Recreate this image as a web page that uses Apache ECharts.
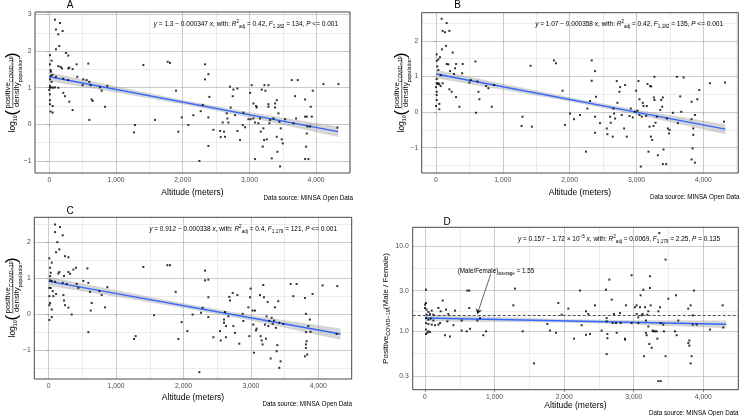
<!DOCTYPE html>
<html><head><meta charset="utf-8">
<script src="https://cdn.jsdelivr.net/npm/echarts@6/dist/echarts.min.js"></script>
<style>html,body{margin:0;padding:0;background:#fff}#c{width:740px;height:416px}</style>
</head><body><div id="c"></div>
<script>
// ---------- DATA ----------
const altA = [85,160,100,135,200,150,100,250,285,10,35,135,170,190,285,300,350,410,10,20,25,20,45,100,10,35,210,285,420,10,10,35,60,85,135,0,10,210,235,10,10,50,20,50,300,350,510,560,585,600,620,635,650,600,760,785,870,835,500,1410,1285,1270,1585,1775,1810,1900,1935,1985,2085,2160,2250,2270,2300,2335,2335,2385,2400,2385,2385,2460,2560,2570,2600,2620,2635,2660,2670,2685,2710,2720,2750,2760,2785,2820,2820,2860,2900,2910,2935,2985,3010,3020,3035,3060,3060,3085,3085,3100,3110,3135,3160,3170,3185,3200,3210,3220,3225,3240,3260,3285,3285,3285,3300,3310,3335,3360,3385,3385,3410,3410,3420,3435,3450,3460,3470,3485,3500,3535,3635,3660,3685,3700,3725,3835,3835,3860,3850,3835,3885,3860,3870,3910,3920,3935,3950,4110,4335,4320];
const valA = [2.86,2.77,2.59,2.46,2.55,2.14,2.05,1.95,1.88,1.89,1.74,1.59,1.57,1.53,1.53,1.55,1.51,1.64,1.64,1.48,1.44,1.32,1.35,1.30,1.23,1.16,1.25,1.21,1.30,1.05,1.00,1.01,1.00,1.01,1.00,0.94,0.82,0.86,0.77,0.66,0.55,0.50,0.35,0.32,0.62,0.39,1.23,1.21,1.66,1.16,1.07,0.68,0.64,0.12,1.01,0.92,1.05,0.48,1.07,1.62,-0.02,-0.22,0.12,1.71,1.68,0.92,-0.20,0.19,-0.02,0.25,-1.00,0.36,0.53,1.64,1.23,1.37,0.75,0.19,-0.59,-0.15,-0.18,-0.35,0.05,-0.20,-0.34,0.30,0.16,0.05,1.03,0.46,0.77,0.95,0.25,0.98,-0.18,-0.43,-0.02,0.32,-0.08,0.14,0.86,0.14,1.07,0.57,0.16,-0.95,0.05,0.50,0.46,0.03,0.16,-0.20,0.95,-0.61,-0.11,-0.43,1.07,0.92,-0.41,1.07,0.55,0.48,0.03,0.12,-0.93,0.16,0.46,0.57,0.66,-0.34,-0.75,0.30,0.07,-1.15,-0.11,-0.41,-0.52,0.14,1.21,0.03,0.77,0.16,1.21,0.68,0.21,0.21,-0.61,-0.95,-0.95,-0.25,-0.06,-0.06,0.48,0.21,0.92,1.10,1.10,-0.09];

const altB = [85,100,135,160,200,150,90,250,10,35,60,160,185,300,285,400,10,20,35,70,10,35,210,270,390,10,25,50,70,100,0,10,200,235,10,10,50,0,50,300,350,500,520,590,620,635,650,600,750,785,870,835,1415,1295,1280,1435,1765,1795,1895,1930,2005,2065,2155,2245,2265,2305,2330,2330,2380,2395,2380,2380,2455,2555,2565,2605,2615,2645,2655,2665,2680,2705,2715,2745,2755,2780,2830,2815,2855,2895,2915,2945,2980,2995,3015,3030,3045,3045,3065,3080,3095,3105,3145,3155,3165,3180,3195,3205,3215,3220,3235,3255,3260,3270,3270,3285,3305,3320,3355,3370,3385,3395,3405,3395,3445,3455,3470,3485,3495,3545,3605,3620,3655,3670,3705,3825,3825,3840,3825,3875,3850,3850,3875,3910,3940,4100,4325,4310];
const valB = [2.62,2.28,2.24,2.50,2.28,1.86,1.76,1.67,1.62,1.48,1.54,1.35,1.34,1.35,1.23,1.35,1.44,1.28,1.18,1.04,0.93,0.81,1.15,1.07,1.09,0.81,0.79,0.78,0.73,0.81,0.70,0.57,0.64,0.57,0.48,0.34,0.23,0.17,0.08,0.42,0.15,0.83,0.90,1.42,0.86,0.57,0.36,-0.02,0.73,0.67,0.76,0.15,1.30,-0.13,-0.39,-0.41,1.45,1.37,0.60,-0.36,-0.04,-0.20,-0.08,-1.11,0.10,0.31,1.45,0.88,1.15,0.43,-0.13,-0.58,-0.31,-0.46,-0.62,-0.13,-0.30,-0.69,0.10,-0.04,-0.18,0.87,0.26,0.57,0.70,-0.08,0.76,-0.46,-0.69,-0.11,0.10,-0.15,0.01,0.60,0.04,0.87,0.36,-0.08,-1.53,-0.13,0.26,0.17,-0.11,0.17,0.79,-1.11,-0.41,0.73,-0.69,0.72,-0.78,-0.39,0.41,0.99,0.34,-0.30,-0.13,-1.21,0.06,0.34,0.15,0.41,-1.05,-1.46,-1.46,-0.18,-0.46,-0.60,-0.50,-0.02,0.99,-0.31,0.44,0.01,0.97,0.29,-0.20,-1.02,-1.33,-1.42,-0.64,-0.46,-0.08,0.36,0.62,0.81,0.83,-0.27];

const altC = [94,168,94,208,128,158,109,242,292,10,45,158,143,227,292,317,366,405,20,30,20,20,45,94,208,267,415,10,30,59,109,10,69,218,227,242,292,20,10,45,45,10,341,440,514,574,588,613,638,623,588,752,786,870,836,1404,1290,1266,1563,1760,1800,1884,1924,1973,2057,2136,2235,2260,2284,2319,2319,2369,2369,2369,2443,2542,2552,2601,2601,2616,2631,2631,2666,2680,2690,2730,2740,2764,2799,2828,2878,2888,2962,2977,2987,2996,3026,3036,3046,3061,3076,3085,3135,3145,3160,3174,3184,3194,3209,3224,3234,3249,3259,3274,3293,3308,3323,3343,3357,3372,3382,3392,3406,3421,3441,3421,3481,3590,3630,3679,3802,3817,3817,3802,3837,3827,3817,3817,3852,3876,3886,3915,4064,4282,4272];
const valC = [2.49,2.42,2.28,2.19,2.00,1.80,1.72,1.61,1.58,1.55,1.43,1.17,1.13,1.06,1.17,1.12,1.24,1.29,1.29,1.15,1.06,0.94,0.92,0.90,0.87,0.84,0.84,0.73,0.73,0.64,0.56,0.50,0.50,0.53,0.38,0.25,0.18,0.31,0.25,0.13,-0.08,-0.16,-0.01,0.73,0.92,1.27,0.87,0.62,0.31,0.10,-0.50,0.64,0.53,0.75,0.19,1.31,-0.61,-0.69,-0.03,1.36,1.36,0.62,-0.69,-0.22,-0.47,-0.01,-1.61,0.04,0.18,1.21,0.94,0.96,0.47,-0.08,-0.64,-0.47,-0.73,-0.15,-0.24,0.06,-0.33,-0.64,-0.06,0.48,0.38,0.59,-0.33,-0.52,0.53,-0.82,0.01,-0.19,0.19,-0.61,0.47,0.71,0.10,-0.29,-1.07,0.10,-0.45,-0.40,0.53,-0.61,-0.73,-0.84,0.81,0.47,-0.29,-0.68,-0.06,0.34,-0.33,-0.19,-1.23,-0.10,-0.27,-0.18,0.19,-0.38,-1.03,-0.86,0.36,-1.49,-1.31,-0.24,-0.27,0.84,0.50,0.84,0.45,0.01,-0.94,-1.17,-1.12,-0.75,-0.84,-0.50,-0.33,-0.15,-0.49,0.56,0.80,0.78,-0.55];

const altD = [14,14,0,0,24,96,48,72,24,120,14,48,81,120,14,48,96,144,192,216,14,34,48,14,72,192,225,254,302,321,287,359,335,431,407,527,527,599,608,636,636,647,752,790,838,877,1293,1269,1404,1566,1758,1796,1916,1883,1964,2060,2141,2228,2252,2314,2314,2347,2371,2443,2539,2601,2611,2611,2621,2621,2611,2649,2683,2697,2716,2745,2755,2803,2812,2874,2874,2889,2970,2970,3018,3042,3042,3066,3066,3090,3099,3114,3128,3138,3147,3162,3176,3176,3186,3195,3210,3210,3224,3234,3234,3243,3258,3272,3282,3306,3330,3339,3354,3378,3387,3354,3387,3368,3425,3434,3458,3458,3497,3607,3593,3617,3641,3784,3784,3799,3799,3818,3818,3832,3847,3847,3866,3904,4096,4278,4287];
const valD = [3.09,2.15,2.06,1.88,1.80,1.75,1.69,1.60,1.57,1.57,1.43,1.37,1.41,1.34,1.25,1.22,1.20,1.18,1.20,1.25,1.05,0.96,1.00,0.93,0.98,1.88,1.72,2.30,1.80,1.31,0.90,0.87,1.60,1.75,1.18,1.34,1.02,1.00,3.01,3.01,1.88,1.07,1.34,1.43,0.90,1.00,3.18,2.02,1.00,0.42,1.22,1.02,2.15,0.96,1.57,1.85,0.82,3.01,1.18,1.72,0.91,1.60,0.93,2.02,1.02,3.09,1.43,1.31,0.93,0.83,0.54,4.05,2.36,1.25,1.60,1.25,0.96,1.64,1.25,0.82,0.80,2.02,4.56,1.25,1.92,2.02,1.60,1.46,1.25,1.92,2.65,1.54,1.60,3.09,0.51,1.92,1.34,0.96,0.90,1.57,1.72,1.14,0.71,3.23,4.44,2.02,0.64,1.02,1.00,1.00,1.00,0.82,1.72,1.92,1.25,0.26,0.26,14.3,1.20,1.00,6.97,0.51,2.42,2.65,1.00,0.90,1.34,1.85,0.73,0.68,0.78,2.02,0.42,0.51,1.54,1.20,3.01,1.20,1.05,2.02,1.11];

// fitted lines (endpoints) and confidence bands
const fitX = [0, 4330];
const fitA = [1.30, -0.20];
const fitB = [1.07, -0.48];
const fitC = [0.912, -0.552];
const fitD = [1.435, 1.21];
const bandX = [0, 1000, 2000, 3000, 4330];
const loA = [1.175, 0.868, 0.546, 0.189, -0.347], hiA = [1.425, 1.038, 0.666, 0.329, -0.057];
const loB = [0.95, 0.627, 0.294, -0.074, -0.62], hiB = [1.19, 0.797, 0.414, 0.066, -0.34];
const loC = [0.787, 0.484, 0.171, -0.177, -0.707], hiC = [1.037, 0.664, 0.301, -0.027, -0.397];
const loD = [1.31, 1.29, 1.266, 1.20, 1.09], hiD = [1.57, 1.48, 1.389, 1.35, 1.34];

const xTicks = [0, 1000, 2000, 3000, 4000];
const xMinor = [500, 1500, 2500, 3500, 4500];
const yTicksABC = [-1, 0, 1, 2, 3];
const yMinorABC = [-1.5, -0.5, 0.5, 1.5, 2.5];
const yTicksD = [0.3, 1, 3, 10];
const yTickLabelsD = ['0.3', '1.0', '3.0', '10.0'];
const yMinorD = [0.548, 1.732, 5.477];
const avgD = 1.55;

const titles = ['A', 'B', 'C', 'D'];
const eqA = '{i|y} = 1.3 − 0.000347 {i|x}, with: {i|R}{sup|2}{sub|adj} = 0.42, {i|F}{sub|1,182} = 134, {i|P} <= 0.001';
const eqB = '{i|y} = 1.07 − 0.000358 {i|x}, with: {i|R}{sup|2}{sub|adj} = 0.42, {i|F}{sub|1,182} = 135, {i|P} <= 0.001';
const eqC = '{i|y} = 0.912 − 0.000338 {i|x}, with: {i|R}{sup|2}{sub|adj} = 0.4, {i|F}{sub|1,179} = 121, {i|P} <= 0.001';
const eqD = '{i|y} = 0.157 − 1.72 × 10{sup|−5} {i|x}, with: {i|R}{sup|2}{sub|adj} = 0.0069, {i|F}{sub|1,179} = 2.25, {i|P} = 0.135';
const source = 'Data source: MINSA Open Data';
const xName = 'Altitude (meters)';

// ---------- CHART ----------
const FF = '"Liberation Sans", Arial, Helvetica, sans-serif';
const MAJ = '#b4b4b4', MIN = '#dcdcdc';
const richEq = {
  i: {fontStyle: 'italic', fontSize: 6.5, fontFamily: FF},
  sub: {fontSize: 4.6, lineHeight: 5, verticalAlign: 'bottom', fontFamily: FF},
  sup: {fontSize: 4.6, lineHeight: 5, verticalAlign: 'top', fontFamily: FF}
};
const pairs = (xs, ys) => xs.map((x, i) => [x, ys[i]]);

const panels = [
  {grid: {left: 35, top: 12, width: 315, height: 161}, xr: [-214, 4508], yr: [-1.33, 3.07], x: altA, y: valA, fit: fitA, lo: loA, hi: hiA},
  {grid: {left: 421.7, top: 12.7, width: 316.6, height: 160.3}, xr: [-214, 4524], yr: [-1.71, 2.79], x: altB, y: valB, fit: fitB, lo: loB, hi: hiB},
  {grid: {left: 34.3, top: 217.3, width: 317.4, height: 161.7}, xr: [-214, 4496], yr: [-1.80, 2.69], x: altC, y: valC, fit: fitC, lo: loC, hi: hiC},
  {grid: {left: 412.7, top: 227.3, width: 325.6, height: 162.4}, xr: [-177, 4503], yr: [0.206, 16.7], x: altD, y: valD, fit: fitD, lo: loD, hi: hiD, log: true}
];

const grids = [], xAxes = [], yAxes = [], series = [], borders = [];
panels.forEach((p, k) => {
  grids.push(Object.assign({show: false}, p.grid));
  borders.push({type: 'rect', silent: true, z: 90,
    shape: {x: p.grid.left, y: p.grid.top, width: p.grid.width, height: p.grid.height},
    style: {fill: 'none', stroke: '#333', lineWidth: 0.9}});
  xAxes.push({
    type: 'value', gridIndex: k, min: p.xr[0], max: p.xr[1],
    name: xName, nameLocation: 'middle', nameGap: k === 3 ? 11.5 : (k === 2 ? 14 : 15),
    nameTextStyle: {fontSize: 8.5, color: '#000', fontFamily: FF},
    axisLine: {show: false}, splitLine: {show: false},
    axisTick: {show: true, customValues: xTicks, length: 2.5, lineStyle: {color: '#333', width: 0.6}},
    axisLabel: {customValues: xTicks, fontSize: 6.8, color: '#4d4d4d', margin: 3.5, fontFamily: FF,
      formatter: v => Number(v).toLocaleString('en-US')}
  });
  if (!p.log) {
    const yt = yTicksABC.filter(v => v >= p.yr[0] && v <= p.yr[1]);
    yAxes.push({
      type: 'value', gridIndex: k, min: p.yr[0], max: p.yr[1],
      axisLine: {show: false}, splitLine: {show: false},
      axisTick: {show: true, customValues: yt, length: 2.5, lineStyle: {color: '#333', width: 0.6}},
      axisLabel: {customValues: yt, fontSize: 6.8, color: '#4d4d4d', margin: 3.5, fontFamily: FF,
        formatter: v => v < 0 ? '\u2212' + Math.abs(v) : String(v)}
    });
  } else {
    yAxes.push({
      type: 'log', logBase: 10, gridIndex: k, min: p.yr[0], max: p.yr[1],
      axisLine: {show: false}, splitLine: {show: false}, axisTick: {show: false}, axisLabel: {show: false},
      name: 'Positive{s|COVID−19}(Male / Female)', nameLocation: 'middle', nameRotate: 90, nameGap: 21,
      nameTextStyle: {fontSize: 8, color: '#000', fontFamily: FF, lineHeight: 11,
        rich: {s: {fontSize: 5.5, lineHeight: 6, verticalAlign: 'bottom', fontFamily: FF}}}
    });
  }
  // grid lines via markLine
  const ml = [];
  const solid = (c, w) => ({color: c, width: w, type: 'solid'});
  xTicks.forEach(v => ml.push({xAxis: v, lineStyle: solid(MAJ, 0.7)}));
  xMinor.filter(v => v < p.xr[1]).forEach(v => ml.push({xAxis: v, lineStyle: solid(MIN, 0.55)}));
  if (!p.log) {
    yTicksABC.filter(v => v >= p.yr[0] && v <= p.yr[1]).forEach(v => ml.push({yAxis: v, lineStyle: solid(MAJ, 0.7)}));
    yMinorABC.filter(v => v >= p.yr[0] && v <= p.yr[1]).forEach(v => ml.push({yAxis: v, lineStyle: solid(MIN, 0.55)}));
  } else {
    yTicksD.forEach((v, i) => ml.push({yAxis: v, lineStyle: solid(MAJ, 0.7),
      label: {show: true, position: 'start', formatter: yTickLabelsD[i], fontSize: 6.8, color: '#4d4d4d', distance: 4, fontFamily: FF}}));
    yMinorD.forEach(v => ml.push({yAxis: v, lineStyle: solid(MIN, 0.55)}));
  }
  series.push({
    type: 'custom', xAxisIndex: k, yAxisIndex: k, z: 2, silent: true,
    data: [[p.xr[0], p.y[0]]],
    renderItem: (params, api) => {
      const pts = [];
      bandX.forEach((x, i) => pts.push(api.coord([x, p.hi[i]])));
      for (let i = bandX.length - 1; i >= 0; i--) pts.push(api.coord([bandX[i], p.lo[i]]));
      return {type: 'polygon', shape: {points: pts}, style: {fill: 'rgba(150,150,150,0.4)'}};
    },
    markLine: {z: 1, silent: true, symbol: 'none', animation: false, label: {show: false},
      lineStyle: {type: 'solid'}, data: ml}
  });
  series.push({
    type: 'line', xAxisIndex: k, yAxisIndex: k, z: 3, symbol: 'none', silent: true, animation: false,
    data: pairs(fitX, p.fit), lineStyle: {color: '#3366FF', width: 1.4},
    markLine: p.log ? {z: 4, silent: true, animation: false, symbol: 'none', label: {show: false},
      data: [{yAxis: avgD, lineStyle: {color: '#222', type: [3, 2], width: 0.8}}]} : undefined
  });
  series.push({
    type: 'scatter', xAxisIndex: k, yAxisIndex: k, z: 5, symbol: 'rect', symbolSize: 2, silent: true, animation: false,
    itemStyle: {color: '#000'}, data: pairs(p.x, p.y),
    markLine: p.log ? {z: 6, silent: true, animation: false, symbol: ['none', 'arrow'], symbolSize: 5,
      label: {show: false}, lineStyle: {color: '#222', type: 'solid', width: 0.7},
      data: [[{coord: [944, 4.7]}, {coord: [752, 1.6]}]]} : undefined
  });
});

function fracLabel(cx, cy) {
  const rich = {s: {fontSize: 5.3, lineHeight: 6, verticalAlign: 'bottom', fontFamily: FF}};
  const t = (text, x, y, fs, align) => ({type: 'text', silent: true, style: {text, x, y, fontSize: fs, fontFamily: FF, fill: '#000',
    align: align || 'left', verticalAlign: 'middle', lineHeight: 11, rich}});
  return {
    type: 'group', x: cx, y: cy, rotation: Math.PI / 2, z: 100,
    children: [
      t('log{s|10}', -39.5, 0.5, 8.5),
      t('(', -22.5, 0, 17),
      t('positive{s|COVID−19}', 10.5, -4.3, 7.8, 'center'),
      {type: 'line', silent: true, shape: {x1: -15.5, y1: 0.3, x2: 35, y2: 0.3}, style: {stroke: '#000', lineWidth: 0.6}},
      t('density{s|population}', 10.5, 4.6, 7.8, 'center'),
      t(')', 35, 0, 17)
    ]
  };
}
const txt = (text, x, y, fs, align, extra) => ({type: 'text', silent: true, z: 100,
  style: Object.assign({text, x, y, fontSize: fs, fontFamily: FF, fill: '#000', align: align || 'center', verticalAlign: 'middle'}, extra || {})});

const graphics = borders.concat([
  txt(titles[0], 70, 5, 10), txt(titles[1], 457.7, 5.5, 10), txt(titles[2], 70, 211, 10), txt(titles[3], 447, 222, 10),
  txt(eqA, 338, 24, 6.5, 'right', {rich: richEq, lineHeight: 10}),
  txt(eqB, 723, 24.5, 6.5, 'right', {rich: richEq, lineHeight: 10}),
  txt(eqC, 337, 229, 6.5, 'right', {rich: richEq, lineHeight: 10}),
  txt(eqD, 720, 239, 6.5, 'right', {rich: richEq, lineHeight: 10}),
  txt(source, 353, 198.5, 6.3, 'right'), txt(source, 739.5, 197, 6.3, 'right'),
  txt(source, 352, 404.7, 6.3, 'right'), txt(source, 738.5, 413.5, 6.3, 'right'),
  txt('(Male/Female){s|average} = 1.55', 496, 271.5, 6.3, 'center', {lineHeight: 10,
    rich: {s: {fontSize: 4.6, lineHeight: 5, verticalAlign: 'bottom', fontFamily: FF}}}),
  fracLabel(12.5, 93), fracLabel(401.5, 93), fracLabel(12.5, 298)
]);

const chart = echarts.init(document.getElementById('c'), null, {renderer: 'canvas'});
chart.setOption({
  backgroundColor: '#fff', animation: false,
  grid: grids, xAxis: xAxes, yAxis: yAxes, series, graphic: graphics
});
</script></body></html>
